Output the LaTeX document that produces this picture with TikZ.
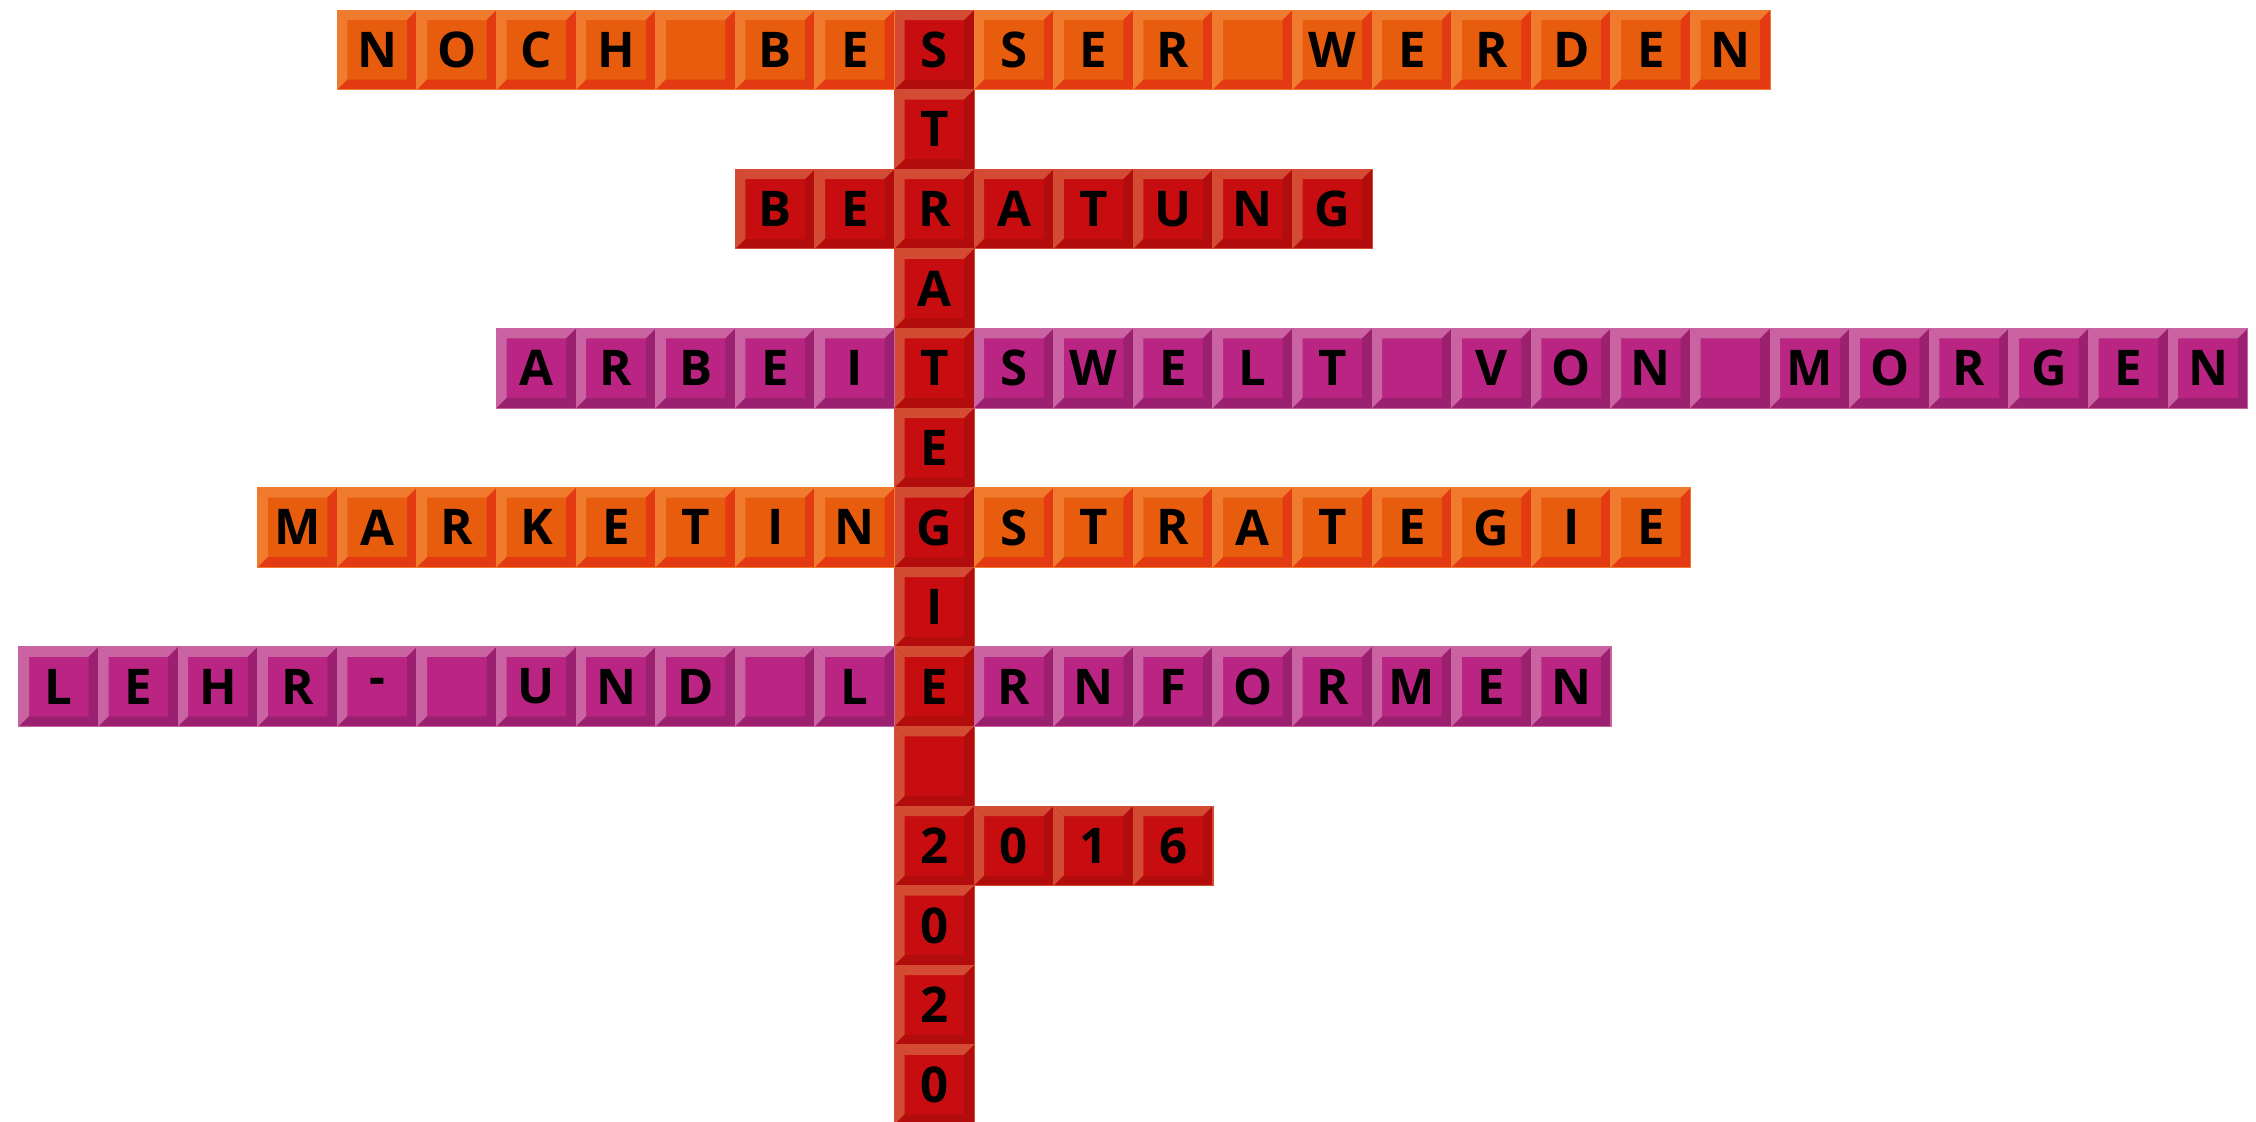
\documentclass[tikz,border=0pt]{standalone}
\usepackage{fontspec}
\setmainfont{Open Sans}
\usepackage{xcolor}
\usetikzlibrary{positioning}
\definecolor{orangeface}{HTML}{E85C0D}
\definecolor{orangelite}{HTML}{F07B2E}
\definecolor{orangedark}{HTML}{E43A14}
\definecolor{redface}{HTML}{C80D10}
\definecolor{redlite}{HTML}{D44B34}
\definecolor{reddark}{HTML}{B20D0C}
\definecolor{magentaface}{HTML}{BA2483}
\definecolor{magentalite}{HTML}{C963A1}
\definecolor{magentadark}{HTML}{9B2170}
\tikzset{
  tile/.style={draw=#1lite,line width=0.3pt,fill=#1face,minimum size=0.796cm,inner sep=0pt,
    font=\fontsize{14}{16}\selectfont\bfseries,text=black,
    path picture={
      \fill[#1lite] (path picture bounding box.north west) -- (path picture bounding box.north east)
        -- ++(-0.1cm,-0.1cm) -- ++(-0.596cm,0cm) -- cycle;
      \fill[#1lite] (path picture bounding box.north west) -- ++(0.1cm,-0.1cm)
        -- ++(0cm,-0.596cm) -- (path picture bounding box.south west) -- cycle;
      \fill[#1dark] (path picture bounding box.north east) -- (path picture bounding box.south east)
        -- ++(-0.1cm,0.1cm) -- ++(0cm,0.596cm) -- cycle;
      \fill[#1dark] (path picture bounding box.south west) -- (path picture bounding box.south east)
        -- ++(-0.1cm,0.1cm) -- ++(-0.596cm,0cm) -- cycle;
    }}
}
\begin{document}
\begin{tikzpicture}[x=0.796cm,y=-0.796cm]
  \useasboundingbox (0,0) rectangle (28.342,14.095);

  \foreach \ch [count=\rw from 0] in {S,T,R,A,T,E,G,I,E,{},2,0,2,0}
    \node[tile=red] (strat-\rw) at (11.739,\rw+0.626) {\ch};

  \foreach \ch [count=\col from 4] in {N,O,C,H,{},B,E,S,S,E,R,{},W,E,R,D,E,N}
    {\ifnum\col=11 \else \node[tile=orange] (noch-\col) at (\col+0.739,0.626) {\ch};\fi}
  \foreach \ch [count=\col from 9] in {B,E,R,A,T,U,N,G}
    {\ifnum\col=11 \else \node[tile=red] (beratung-\col) at (\col+0.739,2.626) {\ch};\fi}
  \foreach \ch [count=\col from 6] in {A,R,B,E,I,T,S,W,E,L,T,{},V,O,N,{},M,O,R,G,E,N}
    {\ifnum\col=11 \else \node[tile=magenta] (arbeit-\col) at (\col+0.739,4.626) {\ch};\fi}
  \foreach \ch [count=\col from 3] in {M,A,R,K,E,T,I,N,G,S,T,R,A,T,E,G,I,E}
    {\ifnum\col=11 \else \node[tile=orange] (marketing-\col) at (\col+0.739,6.626) {\ch};\fi}
  \foreach \ch [count=\col from 0] in {L,E,H,R,-,{},U,N,D,{},L,E,R,N,F,O,R,M,E,N}
    {\ifnum\col=11 \else \node[tile=magenta] (lehr-\col) at (\col+0.739,8.626) {\ch};\fi}
  \foreach \ch [count=\col from 11] in {2,0,1,6}
    {\ifnum\col=11 \else \node[tile=red] (jahr-\col) at (\col+0.739,10.626) {\ch};\fi}
\end{tikzpicture}
\end{document}
